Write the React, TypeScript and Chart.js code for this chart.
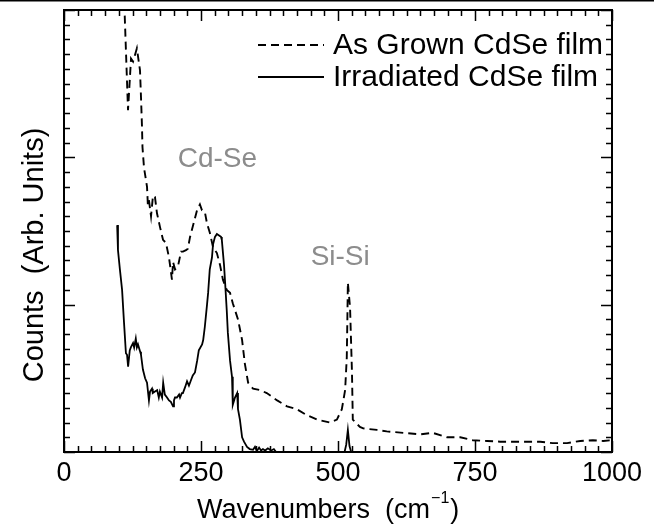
import React, { useEffect, useRef } from "react";
import { Chart, registerables } from "chart.js";

Chart.register(...registerables);

// [wavenumber (cm^-1), counts (arb. units)]
const asGrownPoints: [number, number][] = [
  [110, 3.05], [116.8, 2.32], [122.3, 2.67], [126, 2.65], [133, 2.74], [138.7, 2.59],
  [140.5, 2.41], [142.3, 2.21], [143.2, 2.07], [146, 1.93], [151.5, 1.8], [153, 1.68],
  [155, 1.71], [158.8, 1.6], [162.4, 1.74], [166, 1.73], [169.7, 1.62], [175, 1.53],
  [180.7, 1.44], [186, 1.42], [191.6, 1.32], [197, 1.17], [199, 1.29], [202.6, 1.24],
  [208, 1.26], [213.5, 1.36], [217, 1.36], [222.6, 1.37], [226, 1.38], [230, 1.46],
  [235, 1.53], [242.7, 1.64], [248, 1.68], [251.8, 1.64], [257, 1.63], [261, 1.55],
  [266, 1.49], [272, 1.39], [279, 1.35], [284.7, 1.27], [290, 1.17], [297, 1.1],
  [303, 1.08], [308, 1.01], [317.5, 0.9], [325, 0.76], [330, 0.6], [336, 0.47],
  [345, 0.43], [358, 0.42], [370, 0.4], [389, 0.35], [407, 0.31], [425, 0.29], [443, 0.25],
  [462, 0.22], [485, 0.2], [498, 0.22], [507, 0.29], [513, 0.42], [516, 0.64],
  [517, 0.88], [518, 1.15], [522, 0.98], [525.5, 0.54], [527, 0.22], [540, 0.17],
  [546, 0.16], [571, 0.15], [589, 0.14], [619, 0.13], [650, 0.12], [673, 0.13],
  [699, 0.1], [723, 0.1], [746, 0.08], [772, 0.075], [796, 0.07], [819, 0.07],
  [845, 0.07], [869, 0.07], [892, 0.06], [918, 0.06], [942, 0.075], [965, 0.08],
  [984, 0.075], [1000, 0.08],
];

const irradiatedPoints: [number, number][] = [
  [97, 1.54], [98.5, 1.37], [102, 1.24], [106, 1.1], [109.5, 0.88], [113, 0.67],
  [115, 0.66], [117, 0.58], [120, 0.69], [122, 0.71], [126, 0.74], [128, 0.71],
  [131, 0.77], [133, 0.71], [135, 0.73], [139, 0.68], [140.5, 0.66], [144, 0.56],
  [148, 0.5], [151.5, 0.47], [155, 0.35], [157, 0.41], [160.6, 0.43], [162, 0.4],
  [166, 0.41], [170, 0.42], [173, 0.37], [175, 0.41], [179, 0.37], [181, 0.47],
  [184, 0.39], [188, 0.37], [191.6, 0.35], [195, 0.34], [199, 0.31], [200.7, 0.35],
  [202.5, 0.37], [206, 0.37], [210, 0.39], [211.7, 0.37], [215, 0.4], [217, 0.4],
  [221, 0.44], [224.5, 0.48], [228, 0.45], [232, 0.49], [235, 0.52], [239, 0.54],
  [243, 0.62], [246, 0.69], [252, 0.73], [254, 0.76], [257, 0.85], [261, 1.0],
  [263, 1.08], [266, 1.24], [270, 1.32], [272, 1.41], [275.5, 1.46], [279, 1.48],
  [283, 1.47], [286.5, 1.46], [288, 1.44], [292, 1.27], [294, 1.15], [297, 0.96],
  [299, 0.81], [303, 0.62], [306.6, 0.51], [308, 0.32], [312, 0.37], [316, 0.4],
  [317.5, 0.29], [321, 0.22], [325, 0.1], [328.5, 0.07], [334, 0.035], [339, 0.02],
  [345, 0.015], [348.5, 0.035], [352, 0.007], [356, 0.03], [359.5, 0.01], [363, 0.02],
  [367, 0.01], [372, 0.025], [378, 0.01], [383, 0.02], [387, 0], [512, 0],
  [515, 0.05], [518, 0.15], [521, 0.04], [524, 0], [1000, 0],
];

const xTickValues = [0, 250, 500, 750, 1000];
const seriesLabels = ["As Grown CdSe film", "Irradiated CdSe film"];
const peakLabels: { text: string; x: number; y: number }[] = [
  { text: "Cd-Se", x: 280, y: 1.99 },
  { text: "Si-Si", x: 504, y: 1.32 },
];
const xTitle = "Wavenumbers  (cm";
const xTitleSup = "−1";
const yTitle = "Counts  (Arb. Units)";

const FONT = '"Liberation Sans", Arial, Helvetica, sans-serif';

const decorPlugin = {
  id: "decor",
  afterDatasetsDraw(chart: any) {
    const { ctx, chartArea: a, scales } = chart;
    const xs = scales.x;
    const ys = scales.y;
    ctx.save();
    // top rule of the page
    ctx.fillStyle = "#000";
    ctx.fillRect(0, 0, chart.width, 1.5);

    // frame
    ctx.strokeStyle = "#000";
    ctx.lineWidth = 2;
    ctx.strokeRect(a.left, a.top, a.right - a.left, a.bottom - a.top);

    // x ticks (inward, top & bottom)
    ctx.lineWidth = 1.5;
    ctx.beginPath();
    for (let v = 0; v <= 1000; v += 25) {
      const px = Math.round(xs.getPixelForValue(v)) + 0.5;
      const len = v % 250 === 0 ? 11 : 6;
      ctx.moveTo(px, a.bottom);
      ctx.lineTo(px, a.bottom - len);
      ctx.moveTo(px, a.top);
      ctx.lineTo(px, a.top + len);
    }
    // y ticks (inward, left & right)
    for (let i = 0; i <= 30; i++) {
      const v = i / 10;
      const py = Math.round(ys.getPixelForValue(v)) + 0.5;
      const len = i % 10 === 0 ? 11 : 6;
      ctx.moveTo(a.left, py);
      ctx.lineTo(a.left + len, py);
      ctx.moveTo(a.right, py);
      ctx.lineTo(a.right - len, py);
    }
    ctx.stroke();

    // peak annotations
    ctx.fillStyle = "#8c8c8c";
    ctx.font = `28px ${FONT}`;
    ctx.textAlign = "center";
    ctx.textBaseline = "middle";
    for (const p of peakLabels) {
      ctx.fillText(p.text, xs.getPixelForValue(p.x), ys.getPixelForValue(p.y));
    }

    // legend
    ctx.fillStyle = "#000";
    ctx.font = `30px ${FONT}`;
    ctx.textAlign = "left";
    const legendRows = [45, 77];
    const dashes = [[8, 5], []];
    legendRows.forEach((y, i) => {
      ctx.beginPath();
      ctx.setLineDash(dashes[i]);
      ctx.lineWidth = 1.8;
      ctx.moveTo(258, y);
      ctx.lineTo(324, y);
      ctx.stroke();
      ctx.setLineDash([]);
      ctx.fillText(seriesLabels[i], 333, y + 1);
    });

    // x title with superscript
    ctx.font = `27px ${FONT}`;
    const w1 = ctx.measureText(xTitle).width;
    ctx.font = `16px ${FONT}`;
    const w2 = ctx.measureText(xTitleSup).width;
    let sx = 197;
    const ty = 511;
    ctx.textAlign = "left";
    ctx.font = `27px ${FONT}`;
    ctx.fillText(xTitle, sx, ty);
    sx += w1 + 1;
    ctx.font = `16px ${FONT}`;
    ctx.fillText(xTitleSup, sx, ty - 12);
    sx += w2 + 1;
    ctx.font = `27px ${FONT}`;
    ctx.fillText(")", sx, ty);

    // y title
    ctx.save();
    ctx.translate(35, (a.top + a.bottom) / 2 + 24);
    ctx.rotate(-Math.PI / 2);
    ctx.textAlign = "center";
    ctx.font = `29px ${FONT}`;
    ctx.fillText(yTitle, 0, 0);
    ctx.restore();

    ctx.restore();
  },
};

export default function App() {
  const ref = useRef<HTMLCanvasElement | null>(null);
  useEffect(() => {
    if (!ref.current) return;
    const chart = new Chart(ref.current, {
      type: "line",
      data: {
        datasets: [
          {
            label: seriesLabels[0],
            data: asGrownPoints.map(([x, y]) => ({ x, y })),
            borderColor: "#000",
            borderWidth: 1.9,
            borderDash: [8, 5],
            pointRadius: 0,
            tension: 0,
          },
          {
            label: seriesLabels[1],
            data: irradiatedPoints.map(([x, y]) => ({ x, y })),
            borderColor: "#000",
            borderWidth: 1.8,
            pointRadius: 0,
            tension: 0,
          },
        ],
      },
      options: {
        animation: false,
        responsive: false,
        maintainAspectRatio: false,
        layout: { padding: { left: 64, right: 42, top: 10, bottom: 0 } },
        plugins: { legend: { display: false }, tooltip: { enabled: false } },
        scales: {
          x: {
            type: "linear",
            min: 0,
            max: 1000,
            afterBuildTicks: (scale: any) => {
              scale.ticks = xTickValues.map((v) => ({ value: v }));
            },
            afterFit: (scale: any) => {
              scale.height = 79;
            },
            grid: { display: false, drawTicks: false },
            border: { display: false },
            ticks: {
              color: "#000",
              font: { size: 27, family: FONT },
              padding: 5,
              maxRotation: 0,
              autoSkip: false,
              callback: (v: any) => String(v),
            },
          },
          y: {
            type: "linear",
            min: 0,
            max: 3,
            display: false,
          },
        },
      },
      plugins: [decorPlugin],
    });
    return () => chart.destroy();
  }, []);
  return (
    <div style={{ position: "fixed", left: 0, top: 0, width: 654, height: 531, background: "#fff" }}>
      <canvas ref={ref} width={654} height={531} style={{ width: 654, height: 531 }} />
    </div>
  );
}
